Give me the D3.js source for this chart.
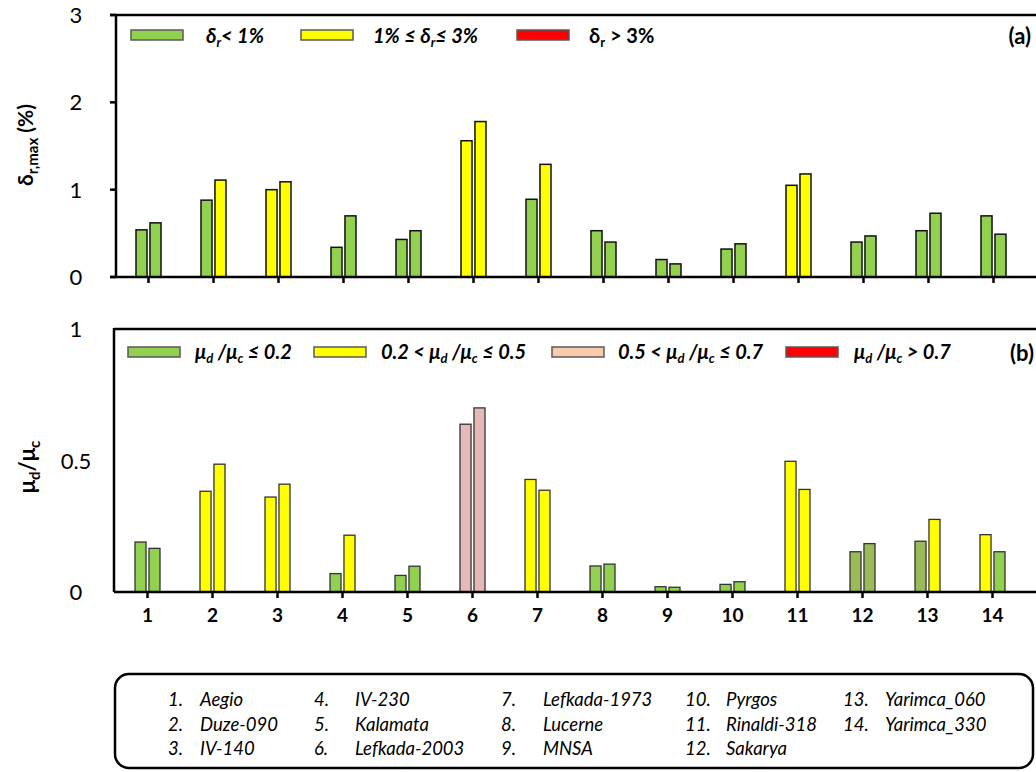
<!DOCTYPE html>
<html><head><meta charset="utf-8">
<script src="https://cdn.jsdelivr.net/npm/d3@7"></script>
<style>body{margin:0;background:#fff}svg{display:block;font-family:Lato,"Open Sans",sans-serif}</style>
</head><body><svg id="c" width="1036" height="772"></svg>
<script>
const categories = [1,2,3,4,5,6,7,8,9,10,11,12,13,14];
const names = ["Aegio","Duze-090","IV-140","IV-230","Kalamata","Lefkada-2003","Lefkada-1973","Lucerne","MNSA","Pyrgos","Rinaldi-318","Sakarya","Yarimca_060","Yarimca_330"];
// panel (a): delta_r,max (%) two bars per record
const driftA = [0.54,0.88,1.00,0.34,0.43,1.56,0.89,0.53,0.20,0.32,1.05,0.40,0.53,0.70];
const driftB = [0.62,1.11,1.09,0.70,0.53,1.78,1.29,0.40,0.15,0.38,1.18,0.47,0.73,0.49];
// panel (b): mu_d/mu_c two bars per record
const muA = [0.19,0.383,0.361,0.07,0.063,0.638,0.428,0.099,0.020,0.029,0.497,0.153,0.193,0.218];
const muB = [0.166,0.486,0.41,0.216,0.098,0.700,0.387,0.106,0.018,0.039,0.39,0.184,0.276,0.153];
// category class of each bar in panel (b) as in the original (o = olive green variant)
const muClassA = ["g","y","y","g","g","p","y","g","g","g","y","o","o","y"];
const muClassB = ["g","y","y","y","g","p","y","g","g","g","y","o","y","g"];
const yTicksA = [0,1,2,3];
const yTicksB = [0,0.5,1];

const svg = d3.select("#c");
const GREEN="#92D050", YELLOW="#FFFF00", RED="#FF0000", PINK="#E6B9B8", PEACH="#F8CBAD", OLIVE="#9BBB59";

const x = d3.scaleBand().domain(categories).range([116,1026]);
const sub = d3.scaleBand().domain([0,1]).range([-12.5,12.5]).paddingInner(0.21);
const yA = d3.scaleLinear().domain([0,3]).range([277,15]);
const yB = d3.scaleLinear().domain([0,1]).range([592,329]);
const colA = d3.scaleThreshold().domain([1,3.0001]).range([GREEN,YELLOW,RED]);
const colB = {g:GREEN,y:YELLOW,p:PINK,r:RED,o:OLIVE};
const LF = 20;

// ---------- Panel (a) ----------
const gA = svg.append("g");
const barsA = [];
categories.forEach((c,i)=>{barsA.push({c,k:0,v:driftA[i]});barsA.push({c,k:1,v:driftB[i]});});
gA.selectAll("rect.bar").data(barsA).join("rect")
  .attr("x",d=>x(d.c)+x.bandwidth()/2+sub(d.k))
  .attr("width",sub.bandwidth())
  .attr("y",d=>yA(d.v)).attr("height",d=>yA(0)-yA(d.v))
  .attr("fill",d=>colA(d.v)).attr("stroke","#111").attr("stroke-width",1.5);
gA.append("line").attr("x1",110).attr("x2",1040).attr("y1",yA(0)).attr("y2",yA(0)).attr("stroke","#000").attr("stroke-width",2.5);
gA.append("line").attr("x1",110).attr("x2",1040).attr("y1",yA(3)).attr("y2",yA(3)).attr("stroke","#000").attr("stroke-width",2.5);
gA.append("line").attr("x1",116).attr("x2",116).attr("y1",yA(3)).attr("y2",yA(0)).attr("stroke","#000").attr("stroke-width",2.5);
gA.selectAll("line.yt").data(yTicksA).join("line").attr("x1",110).attr("x2",116)
  .attr("y1",d=>yA(d)).attr("y2",d=>yA(d)).attr("stroke","#000").attr("stroke-width",2.5);
gA.selectAll("line.xt").data(categories).join("line")
  .attr("x1",d=>x(d)+x.bandwidth()/2).attr("x2",d=>x(d)+x.bandwidth()/2)
  .attr("y1",yA(0)).attr("y2",yA(0)+6).attr("stroke","#000").attr("stroke-width",2.5);
gA.selectAll("text.yl").data(yTicksA).join("text").attr("x",76).attr("y",d=>yA(d)+8)
  .attr("text-anchor","middle").attr("font-size",22).text(d=>d);
const tA = gA.append("text").attr("transform","translate(33,145) rotate(-90)").attr("text-anchor","middle")
  .attr("font-size",21).attr("font-weight","bold");
tA.append("tspan").text("δ");
tA.append("tspan").attr("font-size",15).attr("dy",5).text("r,max");
tA.append("tspan").attr("dy",-5).text(" (%)");

// legend (a)
const legA = [
  {x:131, fill:GREEN, pre:"", post:"< 1%", italic:true, tx:206},
  {x:301, fill:YELLOW, pre:"1% ≤ ", post:"≤ 3%", italic:true, tx:373},
  {x:517, fill:RED, pre:"", post:" > 3%", italic:false, tx:589}
];
legA.forEach(l=>{
  gA.append("rect").attr("x",l.x).attr("y",30).attr("width",52).attr("height",10).attr("fill",l.fill).attr("stroke","#595959").attr("stroke-width",1.5);
  const t = gA.append("text").attr("x",l.tx).attr("y",43).attr("font-size",LF).attr("font-weight","bold").attr("font-style",l.italic?"italic":"normal");
  t.append("tspan").text(l.pre+"δ");
  t.append("tspan").attr("font-size",13).attr("dy",4).text("r");
  t.append("tspan").attr("dy",-4).text(l.post);
});
gA.append("text").attr("x",1031).attr("y",44).attr("text-anchor","end").attr("font-size",22).attr("font-weight","bold").text("(a)");

// ---------- Panel (b) ----------
const gB = svg.append("g");
const barsB = [];
categories.forEach((c,i)=>{barsB.push({c,k:0,v:muA[i],cl:muClassA[i]});barsB.push({c,k:1,v:muB[i],cl:muClassB[i]});});
gB.selectAll("rect.bar").data(barsB).join("rect")
  .attr("x",d=>x(d.c)+x.bandwidth()/2+sub(d.k)-1)
  .attr("width",sub.bandwidth())
  .attr("y",d=>yB(d.v)).attr("height",d=>yB(0)-yB(d.v))
  .attr("fill",d=>colB[d.cl]).attr("stroke","#333").attr("stroke-width",1.3);
gB.append("line").attr("x1",114).attr("x2",1040).attr("y1",yB(0)).attr("y2",yB(0)).attr("stroke","#000").attr("stroke-width",2.5);
gB.append("line").attr("x1",114).attr("x2",1040).attr("y1",yB(1)).attr("y2",yB(1)).attr("stroke","#000").attr("stroke-width",2.5);
gB.append("line").attr("x1",114).attr("x2",114).attr("y1",yB(1)-1).attr("y2",yB(0)).attr("stroke","#000").attr("stroke-width",2.5);
gB.selectAll("line.xt").data(categories).join("line")
  .attr("x1",d=>x(d)+x.bandwidth()/2-1).attr("x2",d=>x(d)+x.bandwidth()/2-1)
  .attr("y1",yB(0)).attr("y2",yB(0)+6).attr("stroke","#000").attr("stroke-width",2.5);
gB.selectAll("text.xl").data(categories).join("text")
  .attr("x",d=>x(d)+x.bandwidth()/2-1).attr("y",622).attr("text-anchor","middle")
  .attr("font-size",19).attr("font-weight","bold").text(d=>d);
gB.selectAll("text.yl").data(yTicksB).join("text").attr("x",76).attr("y",d=>yB(d)+8)
  .attr("text-anchor","middle").attr("font-size",22).text(d=>d);
const tB = gB.append("text").attr("transform","translate(35,467) rotate(-90)").attr("text-anchor","middle")
  .attr("font-size",22).attr("font-weight","bold");
tB.append("tspan").text("μ");
tB.append("tspan").attr("font-size",15).attr("dy",5).text("d");
tB.append("tspan").attr("dy",-5).text("/μ");
tB.append("tspan").attr("font-size",15).attr("dy",5).text("c");

// legend (b)
const legB = [
  {x:128, fill:GREEN, pre:"", post:" ≤ 0.2", tx:195},
  {x:314, fill:YELLOW, pre:"0.2 < ", post:" ≤ 0.5", tx:381},
  {x:552, fill:PEACH, pre:"0.5 < ", post:" ≤ 0.7", tx:618},
  {x:786, fill:RED, pre:"", post:" > 0.7", tx:854}
];
legB.forEach(l=>{
  gB.append("rect").attr("x",l.x).attr("y",347).attr("width",52).attr("height",10).attr("fill",l.fill).attr("stroke","#595959").attr("stroke-width",1.5);
  const t = gB.append("text").attr("x",l.tx).attr("y",359).attr("font-size",LF).attr("font-weight","bold").attr("font-style","italic");
  t.append("tspan").text(l.pre+"μ");
  t.append("tspan").attr("font-size",13).attr("dy",4).text("d");
  t.append("tspan").attr("dy",-4).text(" /μ");
  t.append("tspan").attr("font-size",13).attr("dy",4).text("c");
  t.append("tspan").attr("dy",-4).text(l.post);
});
gB.append("text").attr("x",1034).attr("y",361).attr("text-anchor","end").attr("font-size",22).attr("font-weight","bold").text("(b)");

// ---------- names box ----------
const gN = svg.append("g");
gN.append("rect").attr("x",115).attr("y",674).attr("width",918).attr("height",94).attr("rx",14)
  .attr("fill","none").attr("stroke","#000").attr("stroke-width",2.5);
const colX = [[168,200],[314,355],[501,543],[685,726],[843,885]];
names.forEach((n,i)=>{
  const col = Math.floor(i/3), row = i%3;
  const yy = 706 + row*24.5;
  gN.append("text").attr("x",colX[col][0]).attr("y",yy).attr("font-size",18.5).attr("font-style","italic").text(categories[i]+".");
  gN.append("text").attr("x",colX[col][1]).attr("y",yy).attr("font-size",18.5).attr("font-style","italic").text(n);
});
</script></body></html>
